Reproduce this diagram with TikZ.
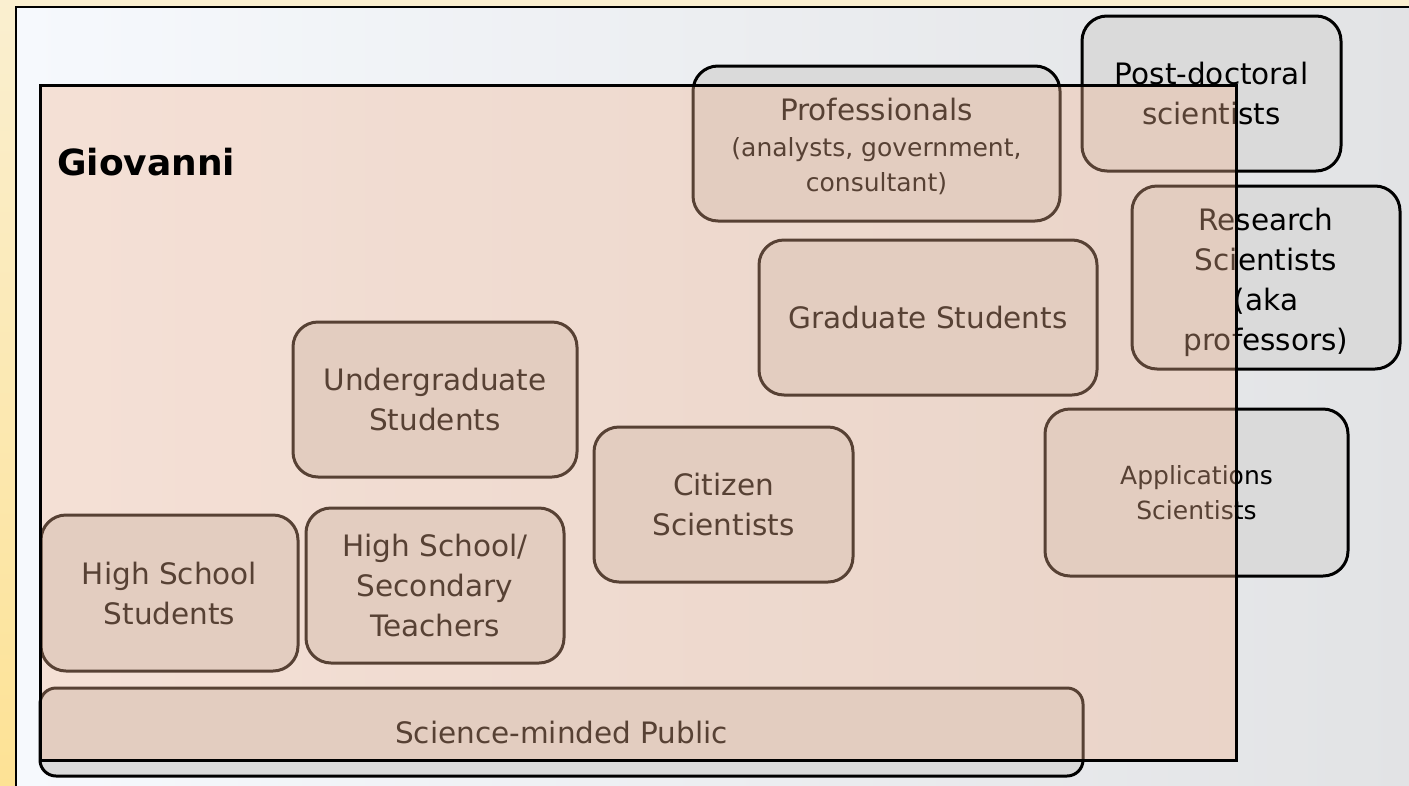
\documentclass[tikz,border=0pt]{standalone}
\usepackage{fontspec}
\setmainfont{DejaVu Sans}
\definecolor{boxgray}{HTML}{DADADA}
\definecolor{giofill}{RGB}{243,182,146}
\definecolor{framelight}{HTML}{FAEFD0}
\definecolor{framedeep}{HTML}{FDE295}
\definecolor{panelleft}{HTML}{F6F9FD}
\definecolor{panelright}{HTML}{E2E3E5}
\begin{document}
\begin{tikzpicture}[x=1pt,y=-1pt,
  audience/.style={draw=black, line width=3pt, fill=boxgray, rounded corners=25pt,
    inner sep=0pt, align=center, text=black,
    font=\fontsize{29.5}{40}\selectfont},
  smalltext/.style={font=\fontsize{25}{35}\selectfont},
  toolarea/.style={draw=black, line width=3pt, fill=giofill, fill opacity=0.36,
    draw opacity=1, inner sep=0pt}
]
% outer frame and slide panel
\shade[top color=framelight, bottom color=framedeep] (0,0) rectangle (1409,785);
\useasboundingbox (0,0) rectangle (1409,785);
\shade[left color=panelleft, right color=panelright] (16,7) rectangle (1412,788);
\draw[line width=2pt] (16,788) -- (16,7) -- (1412,7);

% audience groups (a tall strut on the first line lowers a text block a little)
\node[audience, minimum width=259pt, minimum height=155pt] (postdoc) at (1211.5,93.5)
  {Post-doctoral\\scientists};
\node[audience, minimum width=367pt, minimum height=155pt] (prof) at (876.5,143.5)
  {\rule{0pt}{28pt}Professionals\\[-4pt]\fontsize{25}{35}\selectfont (analysts, government,\\[-5pt]\fontsize{25}{33}\selectfont consultant)};
\node[audience, minimum width=268pt, minimum height=183pt] (research) at (1266,277.5)
  {\rule{0pt}{32pt}Research\\Scientists\\(aka\\professors)};
\node[audience, minimum width=338pt, minimum height=155pt] (grad) at (928,317.5)
  {Graduate Students};
\node[audience, smalltext, minimum width=303pt, minimum height=167pt] (apps) at (1196.5,492.5)
  {Applications\\Scientists};
\node[audience, minimum width=284pt, minimum height=155pt] (undergrad) at (435,399.5)
  {Undergraduate\\Students};
\node[audience, minimum width=259pt, minimum height=155pt] (citizen) at (723.5,504.5)
  {Citizen\\Scientists};
\node[audience, minimum width=257pt, minimum height=156pt] (hsstud) at (169.5,593)
  {High School\\Students};
\node[audience, minimum width=258pt, minimum height=155pt] (hsteach) at (435,585.5)
  {High School/\\Secondary\\Teachers};
\node[audience, rounded corners=16pt, minimum width=1043pt, minimum height=88pt] (public) at (561.5,732)
  {Science-minded Public};

% tool coverage area on top
\node[toolarea, minimum width=1196pt, minimum height=675pt] (giovanni) at (638,422.5) {};
\node[anchor=base west, inner sep=0pt, font=\bfseries\fontsize{36}{36}\selectfont] (giolabel) at (57,175) {Giovanni};
\end{tikzpicture}
\end{document}
